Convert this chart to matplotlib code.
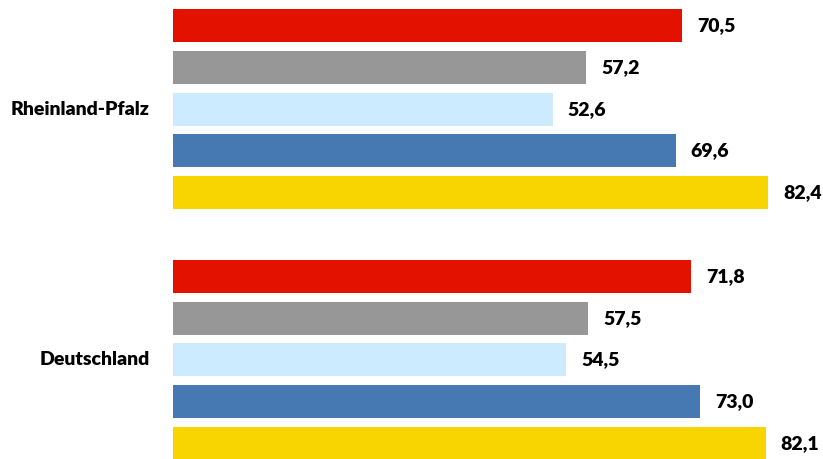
import matplotlib
matplotlib.use("Agg")
import matplotlib.pyplot as plt

# Data
regions = ["Rheinland-Pfalz", "Deutschland"]
series_colors = ["#E31200", "#979797", "#CCEBFE", "#4678B2", "#F8D500"]
values_rlp = [70.5, 57.2, 52.6, 69.6, 82.4]
values_de = [71.8, 57.5, 54.5, 73.0, 82.1]

plt.rcParams["font.family"] = ["Lato", "DejaVu Sans"]

fig = plt.figure(figsize=(8.23, 4.59), dpi=100)
ax = fig.add_axes([173 / 823, 0, 650 / 823, 1])

slot = 41.8
bar_h = 33 / slot
groups = [values_rlp, values_de]
for g, vals in enumerate(groups):
    base = g * 6
    ys = [base + i for i in range(len(vals))]
    ax.barh(ys, vals, height=bar_h, color=series_colors, edgecolor="none")
    for y, v in zip(ys, vals):
        ax.text(v + 15 / 7.22, y, f"{v:.1f}".replace(".", ","),
                va="center", ha="left", fontsize=14, fontweight="heavy",
                color="#000000")
    ax.text(-23 / 7.22, base + 2, regions[g], va="center", ha="right",
            fontsize=14, fontweight="heavy", color="#000000")

ax.set_xlim(0, 650 / 7.22)
ax.set_ylim((459 - 25.5) / slot, -25.5 / slot)
ax.axis("off")

fig.savefig("out.png", dpi=100)
